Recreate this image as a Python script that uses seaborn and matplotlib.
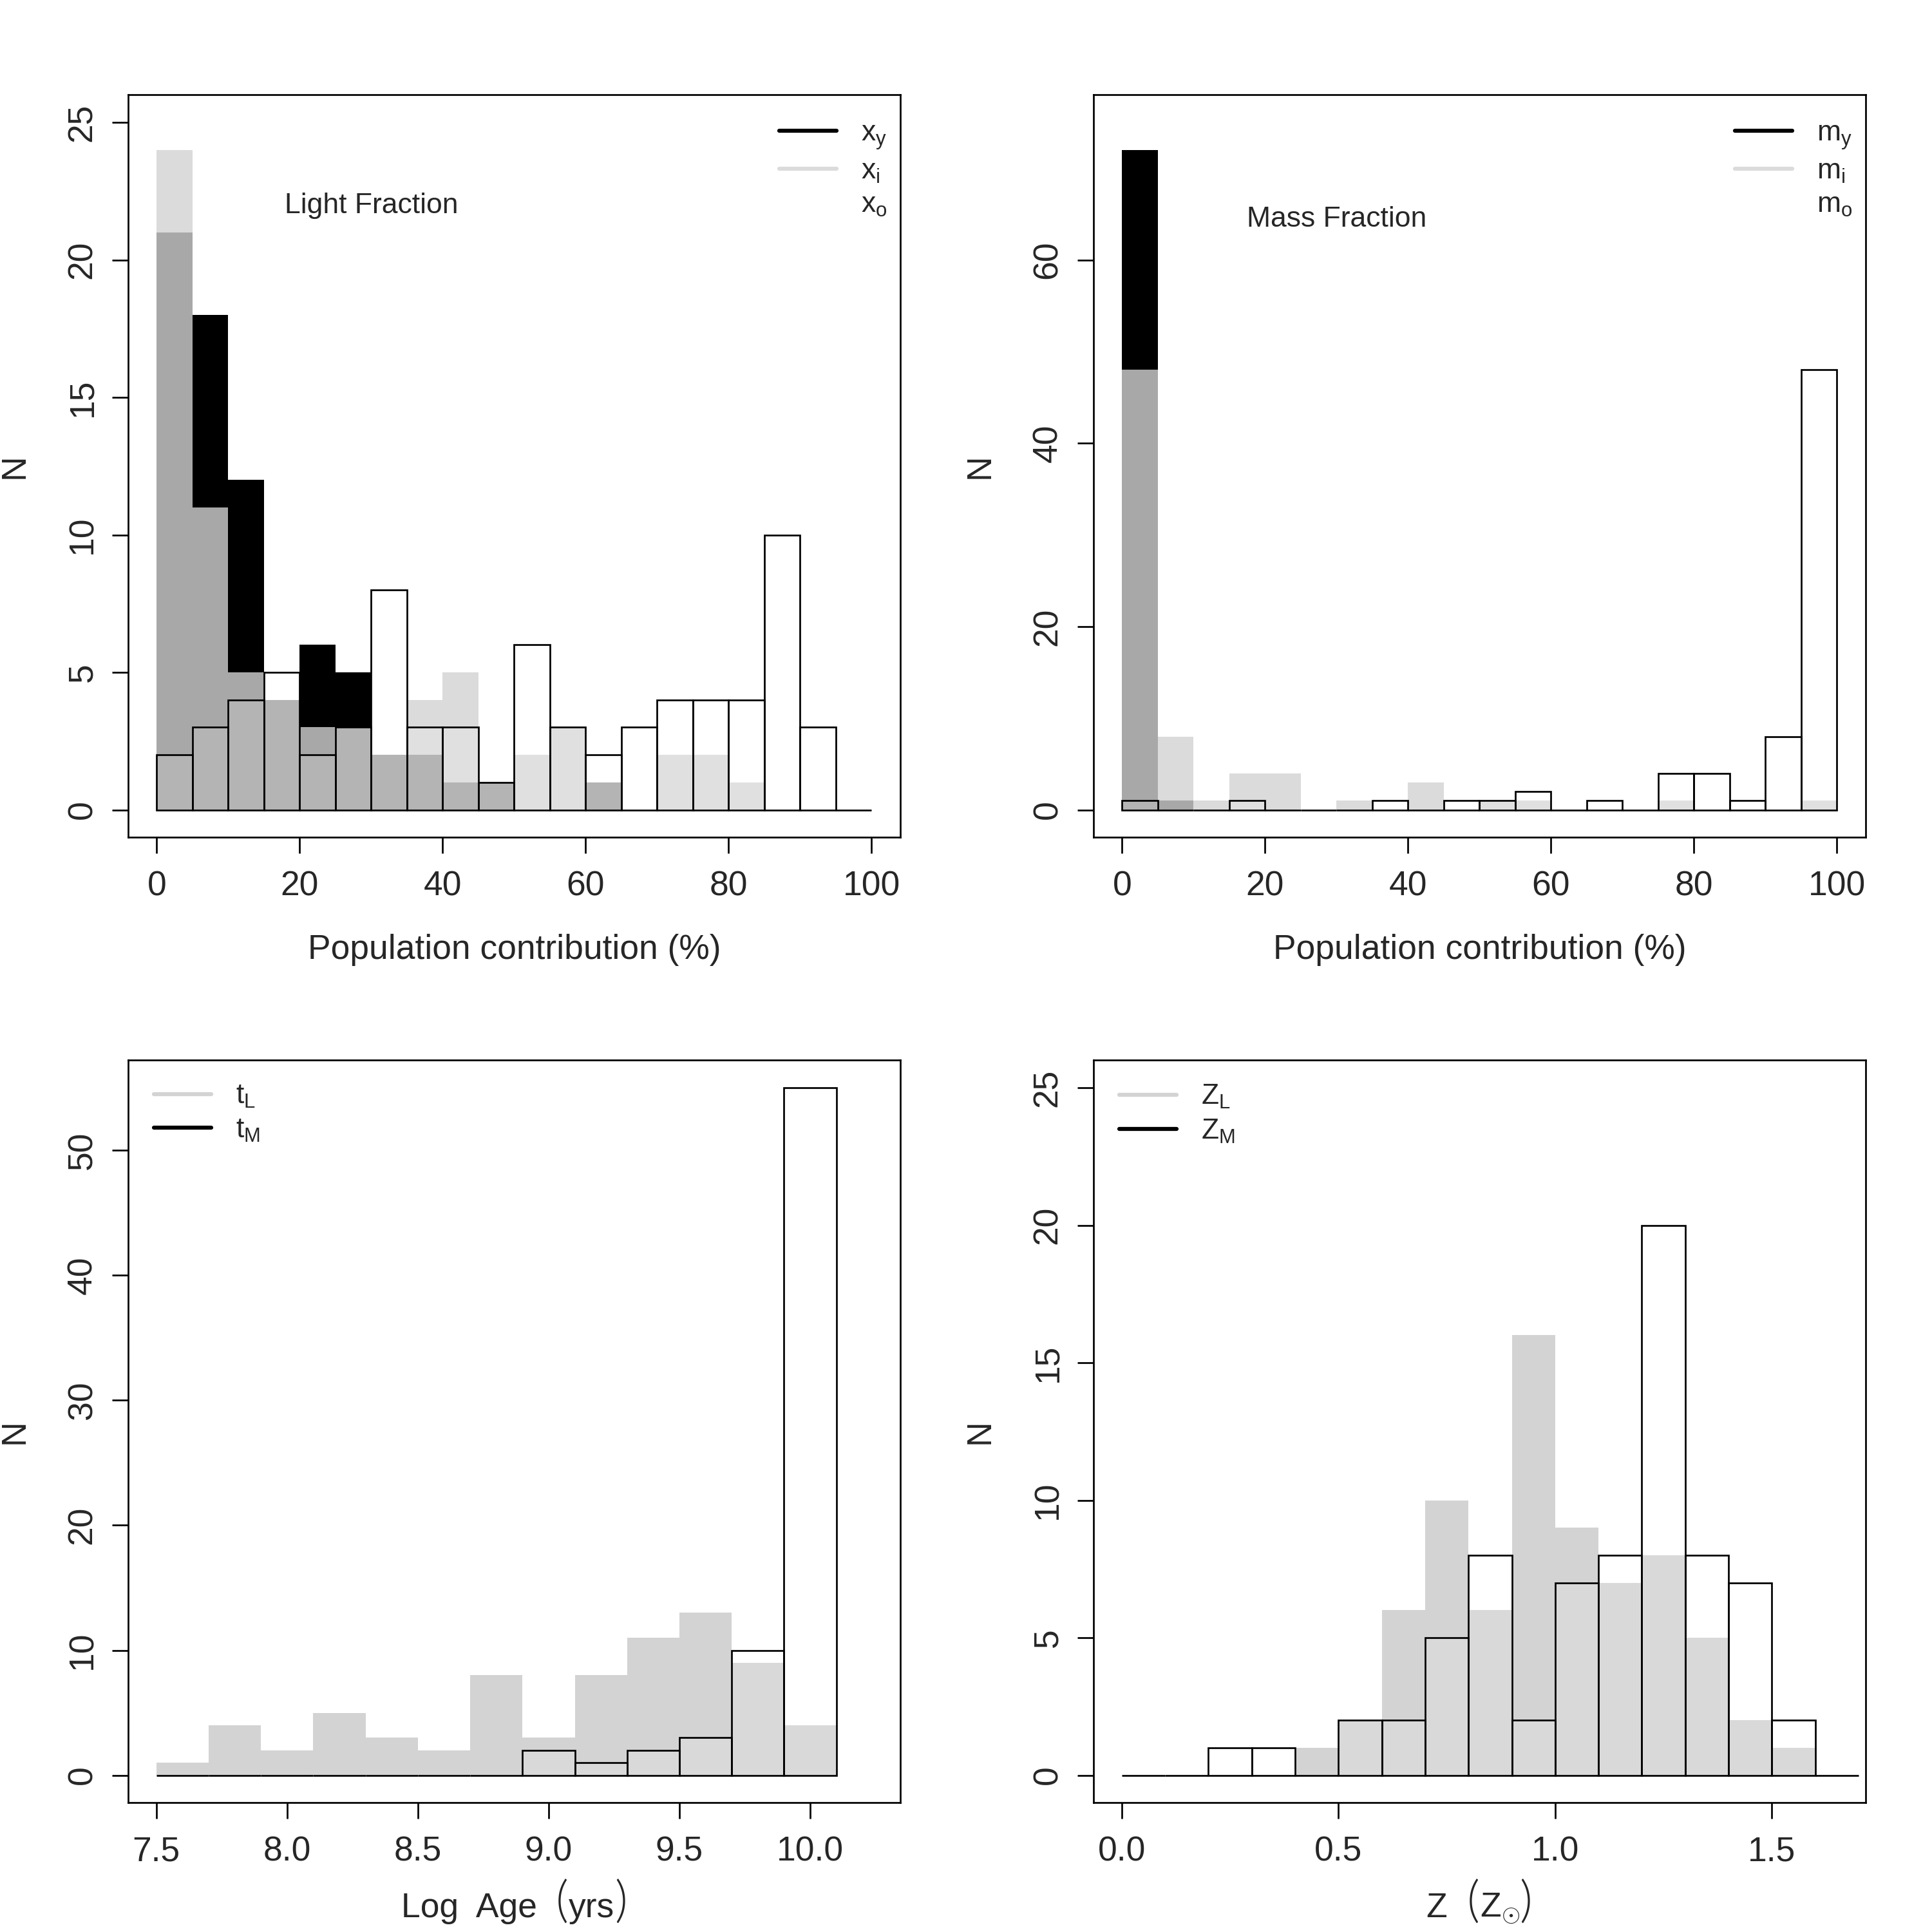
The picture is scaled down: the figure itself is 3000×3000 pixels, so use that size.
import numpy as np
import pandas as pd
import matplotlib
matplotlib.use("Agg")
import matplotlib.pyplot as plt
from matplotlib.lines import Line2D
from matplotlib.offsetbox import TextArea, HPacker, AnchoredOffsetbox
import seaborn as sns

# ---------------- data (counts per bin) ----------------
frac_edges = [0, 5, 10, 15, 20, 25, 30, 35, 40, 45, 50, 55, 60, 65, 70, 75, 80, 85, 90, 95, 100]
xy_counts = [21, 18, 12, 4, 6, 5, 2, 2, 1, 1, 0, 0, 1, 0, 0, 0, 0, 0, 0, 0]
xi_counts = [24, 11, 5, 4, 3, 3, 2, 4, 5, 1, 2, 3, 1, 0, 2, 2, 1, 0, 0, 0]
xo_counts = [2, 3, 4, 5, 2, 3, 8, 3, 3, 1, 6, 3, 2, 3, 4, 4, 4, 10, 3, 0]

my_counts = [72, 1, 0, 0, 0, 0, 0, 0, 0, 0, 0, 0, 0, 0, 0, 0, 0, 0, 0, 0]
mi_counts = [48, 8, 1, 4, 4, 0, 1, 0, 3, 0, 1, 1, 0, 0, 0, 1, 0, 0, 0, 1]
mo_counts = [1, 0, 0, 1, 0, 0, 0, 1, 0, 1, 1, 2, 0, 1, 0, 4, 4, 1, 8, 48]

age_edges = [7.5, 7.7, 7.9, 8.1, 8.3, 8.5, 8.7, 8.9, 9.1, 9.3, 9.5, 9.7, 9.9, 10.1]
tl_counts = [1, 4, 2, 5, 3, 2, 8, 3, 8, 11, 13, 9, 4]
tm_counts = [0, 0, 0, 0, 0, 0, 0, 2, 1, 2, 3, 10, 55]

z_edges = [0.0, 0.1, 0.2, 0.3, 0.4, 0.5, 0.6, 0.7, 0.8, 0.9, 1.0, 1.1, 1.2, 1.3, 1.4, 1.5, 1.6, 1.7]
zl_counts = [0, 0, 0, 0, 1, 2, 6, 10, 6, 16, 9, 7, 8, 5, 2, 1, 0]
zm_counts = [0, 0, 1, 1, 0, 2, 2, 5, 8, 2, 7, 8, 20, 8, 7, 2, 0]

frac_ticks = [0, 20, 40, 60, 80, 100]
light_yticks = [0, 5, 10, 15, 20, 25]
mass_yticks = [0, 20, 40, 60]
age_xticks = [7.5, 8.0, 8.5, 9.0, 9.5, 10.0]
age_yticks = [0, 10, 20, 30, 40, 50]
z_xticks = [0.0, 0.5, 1.0, 1.5]
z_yticks = [0, 5, 10, 15, 20, 25]

# ---------------- style ----------------
sns.set_style("ticks")
FAM = ["Liberation Sans", "DejaVu Sans"]
PAREN_FAM = ["Lato", "Liberation Sans", "DejaVu Sans"]
plt.rcParams["font.family"] = FAM
plt.rcParams["mathtext.fontset"] = "custom"
plt.rcParams["mathtext.rm"] = "Liberation Sans"
plt.rcParams["mathtext.it"] = "Liberation Sans:italic"
plt.rcParams["mathtext.bf"] = "Liberation Sans:bold"

LW = 0.65
TICK_FS = 12.8
TEXT_FS = 10.7
PAREN_FS = 18.4

YOUNG = (0, 0, 0, 1)
INTER = (0.827, 0.827, 0.827, 0.8)
OLD = (1, 1, 1, 0.15)
LGRAY = (0.827, 0.827, 0.827, 1)

fig = plt.figure(figsize=(10, 10), dpi=300)
W = 0.3996
H = 0.3843
ax_tl = fig.add_axes([0.0663, 0.5666, W, H])
ax_tr = fig.add_axes([0.5660, 0.5666, W, H])
ax_bl = fig.add_axes([0.0663, 0.0669, W, H])
ax_br = fig.add_axes([0.5660, 0.0669, W, H])


def hist(ax, edges, counts, face, edge="none", lw=0.0):
    e = [float(v) for v in edges]
    centers = [(a + b) / 2 for a, b in zip(e[:-1], e[1:])]
    df = pd.DataFrame({"c": centers, "w": [float(v) for v in counts]})
    sns.histplot(data=df, x="c", weights="w", bins=e, ax=ax, stat="count",
                 element="bars", fill=True, facecolor=face, edgecolor=edge,
                 linewidth=lw)


def style(ax, xlim, ylim, xticks, yticks, xfmt, xlabel, xlab_y):
    ax.set_xlim(*xlim)
    ax.set_ylim(*ylim)
    ax.set_xticks(xticks)
    ax.set_xticklabels([xfmt(v) for v in xticks])
    ax.set_yticks(yticks)
    ax.set_yticklabels([str(v) for v in yticks], rotation=90, va="center")
    ax.tick_params(axis="both", direction="out", length=6, width=LW,
                   labelsize=TICK_FS, color="black")
    ax.tick_params(axis="x", pad=6.3)
    ax.tick_params(axis="y", pad=5)
    for s in ax.spines.values():
        s.set_visible(True)
        s.set_linewidth(LW)
        s.set_color("black")
    ax.set_xlabel(xlabel, fontsize=TICK_FS, va="baseline")
    ax.xaxis.set_label_coords(0.5, xlab_y)
    ax.set_ylabel("N", fontsize=TICK_FS, va="center")
    ax.yaxis.set_label_coords(-0.147, 0.5)
    ax.grid(False)


def paren_label(ax, parts, y):
    boxes = []
    for t, fs in parts:
        if t in ("(", ")"):
            props = dict(fontsize=fs, family=PAREN_FAM, fontweight=300)
        else:
            props = dict(fontsize=fs, family=FAM)
        boxes.append(TextArea(t, textprops=props))
    pack = HPacker(children=boxes, align="baseline", pad=0, sep=0)
    ab = AnchoredOffsetbox(loc="center", child=pack, pad=0, borderpad=0,
                           frameon=False, bbox_to_anchor=(0.5, y),
                           bbox_transform=ax.transAxes)
    ax.add_artist(ab)


# ---- Light fraction ----
hist(ax_tl, frac_edges, xy_counts, YOUNG)
hist(ax_tl, frac_edges, xi_counts, INTER)
hist(ax_tl, frac_edges, xo_counts, OLD, "black", LW)
style(ax_tl, (-4, 104), (-1, 26), frac_ticks, light_yticks, lambda v: f"{v:d}",
      "Population contribution (%)", -0.164)
ax_tl.text(30, 21.97, "Light Fraction", fontsize=TEXT_FS, ha="center", va="center")

# ---- Mass fraction ----
hist(ax_tr, frac_edges, my_counts, YOUNG)
hist(ax_tr, frac_edges, mi_counts, INTER)
hist(ax_tr, frac_edges, mo_counts, OLD, "black", LW)
style(ax_tr, (-4, 104), (-3, 78), frac_ticks, mass_yticks, lambda v: f"{v:d}",
      "Population contribution (%)", -0.164)
ax_tr.text(30, 64.46, "Mass Fraction", fontsize=TEXT_FS, ha="center", va="center")

# ---- Log age ----
hist(ax_bl, age_edges, tl_counts, LGRAY)
hist(ax_bl, age_edges, tm_counts, OLD, "black", LW)
style(ax_bl, (7.392, 10.344), (-2.2, 57.2), age_xticks, age_yticks, lambda v: f"{v:.1f}",
      "", -0.151)
paren_label(ax_bl, [("Log  Age  ", TICK_FS), ("(", PAREN_FS), ("yrs", TICK_FS), (")", PAREN_FS)],
            -0.1355)

# ---- Metallicity ----
hist(ax_br, z_edges, zl_counts, LGRAY)
hist(ax_br, z_edges, zm_counts, OLD, "black", LW)
style(ax_br, (-0.065, 1.716), (-1, 26), z_xticks, z_yticks, lambda v: f"{v:.1f}",
      "", -0.151)
paren_label(ax_br, [("Z  ", TICK_FS), ("(", PAREN_FS), (r"$\mathrm{Z}_{\odot}$", TICK_FS),
                    (")", PAREN_FS)], -0.1355)


def legend(ax, labels, colors, loc, anchor):
    handles = [Line2D([0], [0], color=c, lw=1.5) for c in colors]
    ax.legend(handles, labels, loc=loc, bbox_to_anchor=anchor, frameon=False,
              fontsize=TEXT_FS, handlelength=2.0, handletextpad=0.85,
              labelspacing=0.25, borderaxespad=0.0, borderpad=0.0)


legend(ax_tl, [r"$\mathrm{x}_{\mathrm{y}}$", r"$\mathrm{x}_{\mathrm{i}}$", r"$\mathrm{x}_{\mathrm{o}}$"],
       [YOUNG, INTER, (1, 1, 1, 1)], "upper right", (0.983, 0.966))
legend(ax_tr, [r"$\mathrm{m}_{\mathrm{y}}$", r"$\mathrm{m}_{\mathrm{i}}$", r"$\mathrm{m}_{\mathrm{o}}$"],
       [YOUNG, INTER, (1, 1, 1, 1)], "upper right", (0.983, 0.966))
legend(ax_bl, [r"$\mathrm{t}_{\mathrm{L}}$", r"$\mathrm{t}_{\mathrm{M}}$"],
       [LGRAY, YOUNG], "upper left", (0.0335, 0.969))
legend(ax_br, [r"$\mathrm{Z}_{\mathrm{L}}$", r"$\mathrm{Z}_{\mathrm{M}}$"],
       [LGRAY, YOUNG], "upper left", (0.0335, 0.969))

fig.savefig("out.png", dpi=300, facecolor="white")
